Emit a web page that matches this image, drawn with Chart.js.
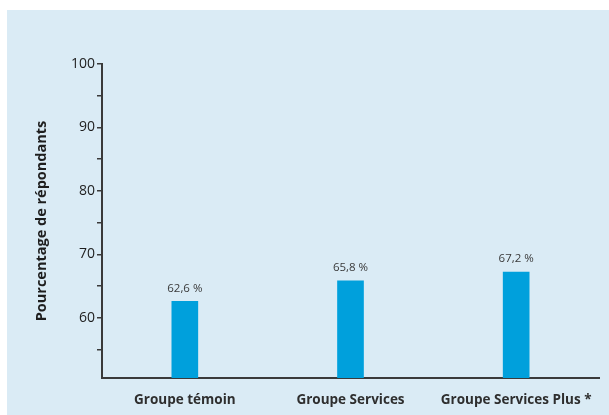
<!DOCTYPE html>
<html>
<head>
<meta charset="utf-8">
<script src="https://cdn.jsdelivr.net/npm/chart.js@4/dist/chart.umd.min.js"></script>
<style>
html,body{margin:0;padding:0;background:#fff;}
#wrap{width:609px;height:415px;position:relative;}
</style>
</head>
<body>
<div id="wrap"><canvas id="c" width="609" height="415"></canvas></div>
<script>
const categories = ["Groupe témoin", "Groupe Services", "Groupe Services Plus *"];
const values = [62.6, 65.8, 67.2];
const valueLabels = ["62,6 %", "65,8 %", "67,2 %"];
const yTicks = [55, 60, 65, 70, 75, 80, 85, 90, 95, 100];
const yTitle = "Pourcentage de répondants";

const FONT = "'Open Sans', 'Noto Sans', sans-serif";

const bgPlugin = {
  id: 'bg',
  beforeDraw(chart) {
    const ctx = chart.ctx;
    ctx.save();
    ctx.fillStyle = '#ffffff';
    ctx.fillRect(0, 0, chart.width, chart.height);
    ctx.fillStyle = '#daebf5';
    ctx.fillRect(7, 10, chart.width - 7, chart.height - 10);
    ctx.restore();
  }
};

const labelPlugin = {
  id: 'vlabels',
  afterDatasetsDraw(chart) {
    const ctx = chart.ctx;
    const meta = chart.getDatasetMeta(0);
    ctx.save();
    ctx.font = "11.5px " + FONT;
    ctx.fillStyle = '#3a3a3a';
    ctx.textAlign = 'center';
    ctx.textBaseline = 'middle';
    meta.data.forEach((bar, i) => {
      ctx.fillText(valueLabels[i], bar.x, bar.y - 13);
    });
    ctx.restore();
  }
};

new Chart(document.getElementById('c'), {
  type: 'bar',
  data: {
    labels: categories,
    datasets: [{
      data: values,
      backgroundColor: '#00a0dc',
      borderWidth: 0,
      barThickness: 26
    }]
  },
  options: {
    responsive: false,
    animation: false,
    devicePixelRatio: 1,
    layout: { padding: { top: 64, right: 10, left: 0, bottom: 0 } },
    plugins: { legend: { display: false }, tooltip: { enabled: false } },
    scales: {
      x: {
        grid: { display: false },
        border: { display: true, color: '#3a3a3a', width: 2 },
        ticks: { color: '#2e2e2e', padding: 6, font: { family: FONT, size: 13.5, weight: 'bold' }, maxRotation: 0 },
        afterFit(s) { s.height = 37; }
      },
      y: {
        min: 50.5,
        max: 100,
        afterBuildTicks(s) { s.ticks = yTicks.map(v => ({ value: v })); },
        grid: { drawOnChartArea: false, drawTicks: true, tickLength: 5, color: '#3a3a3a', lineWidth: 1.5 },
        border: { display: true, color: '#3a3a3a', width: 2 },
        ticks: {
          color: '#1e1e1e',
          padding: 2,
          font: { family: FONT, size: 14 },
          callback: (v) => (v % 10 === 0 ? String(v) : '')
        },
        title: {
          display: true,
          text: yTitle,
          color: '#1e1e1e',
          font: { family: FONT, size: 14.5, weight: 'bold' },
          padding: { top: 33, bottom: 0 }
        },
        afterFit(s) { s.width = 102; }
      }
    }
  },
  plugins: [bgPlugin, labelPlugin]
});
</script>
</body>
</html>
